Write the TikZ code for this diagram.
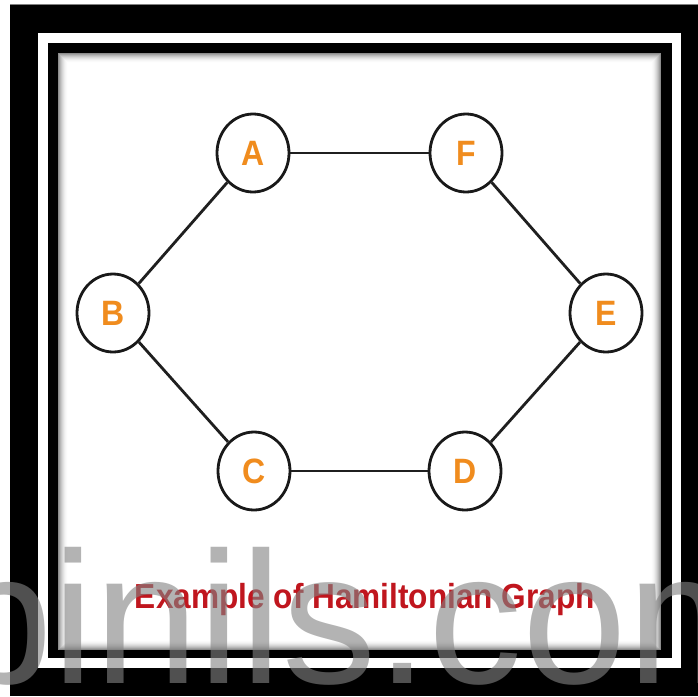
\documentclass[tikz,border=0pt]{standalone}
\usepackage{fontspec}
\setmainfont{Liberation Sans}
\usetikzlibrary{shapes.geometric}
\definecolor{nodeorange}{RGB}{240,140,30}
\definecolor{capred}{RGB}{192,22,30}
\definecolor{wmgray}{RGB}{131,131,131}
\begin{document}
\begin{tikzpicture}[x=1pt,y=-1pt,
  vertex/.style={ellipse, draw=black!90, line width=2.8pt, fill=white,
    minimum width=72pt, minimum height=78pt, inner sep=0pt,
    font=\fontsize{32}{32}\selectfont\bfseries, text=nodeorange},
  edgeline/.style={draw=black!88, line width=2.8pt}]
\useasboundingbox (0,0) rectangle (698,696);
\fill[white] (0,0) rectangle (698,696);
% frame
\fill[black] (10,4) rectangle (698,696);
\draw[gray, line width=1pt] (10,4.5) -- (698,4.5);
\fill[white] (38,33) rectangle (681,668);
\fill[black] (48,43) rectangle (672,658);
\fill[white] (58,53) rectangle (661,650);
% inner shadow
\foreach \i [evaluate=\i as \op using {0.45*(1-\i/10)^2}] in {0,...,9}
  {\draw[black, opacity=\op, line width=1pt] (58.5+\i,53.5+\i) rectangle (660.5-\i,649.5-\i);}
% vertices
\node[vertex] (A) at (253,153) {\scalebox{1}[1.1]{A}};
\node[vertex] (F) at (466,153) {\scalebox{1}[1.1]{F}};
\node[vertex] (B) at (113,313) {\scalebox{1}[1.1]{B}};
\node[vertex] (E) at (606,313) {\scalebox{1}[1.1]{E}};
\node[vertex] (C) at (254,471) {\scalebox{1}[1.1]{C}};
\node[vertex] (D) at (465,471) {\scalebox{1}[1.1]{D}};
% edges
\draw[edgeline] (A) -- (F);
\draw[edgeline] (F) -- (E);
\draw[edgeline] (E) -- (D);
\draw[edgeline] (D) -- (C);
\draw[edgeline] (C) -- (B);
\draw[edgeline] (B) -- (A);
% caption
\node[anchor=base, inner sep=0pt, text=capred,
  font=\fontsize{31.6}{32}\selectfont\bfseries] (cap) at (365,608)
  {\scalebox{1}[1.1]{Example of Hamiltonian Graph}};
% watermark
\begin{scope}
\clip (0,0) rectangle (698,696);
\node[anchor=base west, inner sep=0pt, text=wmgray, text opacity=0.61,
  font=\fontsize{188}{188}\selectfont] (wm) at (-52,683) {binils.com};
\end{scope}
\end{tikzpicture}
\end{document}
